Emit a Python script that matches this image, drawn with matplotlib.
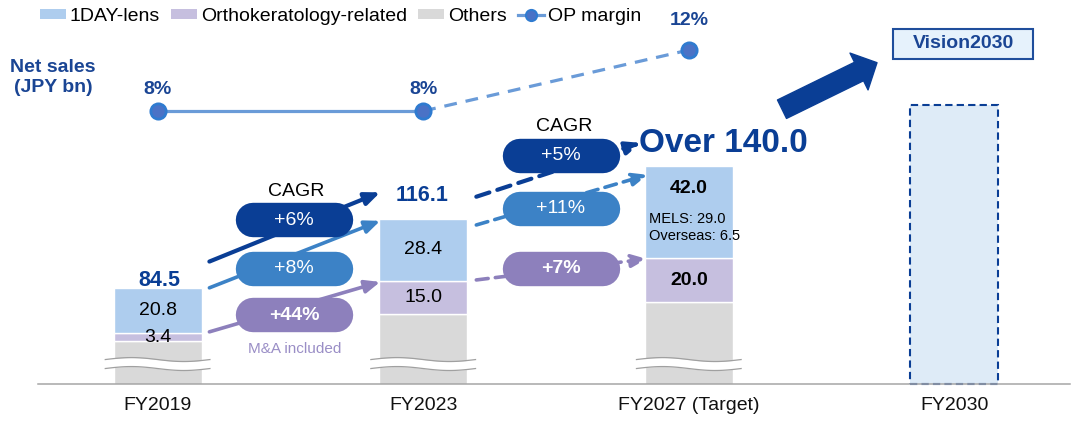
import numpy as np
import matplotlib
matplotlib.use("Agg")
import matplotlib.pyplot as plt
from matplotlib.patches import Rectangle, FancyArrowPatch, Patch
from matplotlib.lines import Line2D

plt.rcParams['font.family'] = ['Liberation Sans', 'DejaVu Sans']

# ---------------- data ----------------
categories = ['FY2019', 'FY2023', 'FY2027 (Target)', 'FY2030']
net_sales = [84.5, 116.1, 140.0]
net_sales_labels = ['84.5', '116.1', 'Over 140.0']
oneday = [20.8, 28.4, 42.0]
ortho = [3.4, 15.0, 20.0]
others = [60.3, 72.7, 78.0]
op_margin = [8, 8, 12]
op_labels = ['8%', '8%', '12%']
cagr_19_23 = ['+6%', '+8%', '+44%']   # net sales, 1DAY, ortho
cagr_23_27 = ['+5%', '+11%', '+7%']
mels_2027 = 29.0
overseas_2027 = 6.5
vision2030_placeholder = 168.0        # height of dashed placeholder bar (estimated)
legend_labels = ['1DAY-lens', 'Orthokeratology-related', 'Others', 'OP margin']

# ---------------- style ----------------
c_1day = '#aecdee'
c_ortho = '#c6bfdf'
c_others = '#d9d9d9'
navy = '#0a3e95'
text_navy = '#1a4594'
mid_blue = '#3c82c6'
purple = '#8d80bc'
ma_purple = '#9a8ec6'
op_line = '#6a9bd8'
op_face = '#4a72c6'
op_edge = '#2f7bd0'

W, H = 1073, 423
fig = plt.figure(figsize=(W / 100, H / 100), dpi=100)
axis_px = 384.3
ax = fig.add_axes([38 / W, (H - axis_px) / H, (1070 - 38) / W, axis_px / H])
x0_px, step_px = 157.6, 265.6
ax.set_xlim((38 - x0_px) / step_px, (1070 - x0_px) / step_px)
ymin, ypx = 40.45, 2.19
ax.set_ylim(ymin, ymin + axis_px / ypx)

x = np.arange(3)
bw = 88 / step_px
others_a = np.array(others)
ortho_a = np.array(ortho)
ax.bar(x, others, bw, color=c_others, edgecolor='white', lw=1, zorder=2)
ax.bar(x, ortho, bw, bottom=others_a, color=c_ortho, edgecolor='white', lw=1, zorder=2)
ax.bar(x, oneday, bw, bottom=others_a + ortho_a, color=c_1day, edgecolor='white', lw=1, zorder=2)
ax.bar([3], [vision2030_placeholder - ymin], bw, bottom=ymin, color='#deebf7',
       edgecolor=navy, lw=1.5, linestyle=(0, (3.5, 2)), zorder=2, clip_on=False)

# axis break symbols
t = np.linspace(0, 1, 80)
for i in x:
    xs = i - 0.197 + 0.394 * t
    wave = 0.9 * np.sin(2 * np.pi * t)
    yc = 49.7
    up = yc + 2.05 + wave
    lo = yc - 2.05 + wave
    ax.fill_between(xs, lo, up, color='white', zorder=3, lw=0)
    ax.plot(xs, up, color='#a0a0a0', lw=0.9, zorder=3)
    ax.plot(xs, lo, color='#a0a0a0', lw=0.9, zorder=3)

# axis styling
for s in ['left', 'right', 'top']:
    ax.spines[s].set_visible(False)
ax.spines['bottom'].set_color('#a6a6a6')
ax.spines['bottom'].set_linewidth(1.1)
ax.set_yticks([])
ax.set_xticks(range(4))
ax.set_xticklabels(categories, fontsize=14, color='#111111')
ax.tick_params(axis='x', length=0, pad=9)

# total labels
tot_offsets = [(1.2, 1.2, 15.5), (-0.5, 13, 15.5), (25, 10, 24)]
for i in x:
    dx, dy, fs = tot_offsets[i]
    ax.annotate(net_sales_labels[i], (i, net_sales[i]), xytext=(dx, dy),
                textcoords='offset points', ha='center', va='baseline',
                fontsize=fs, fontweight='bold', color=navy, zorder=6)

# segment labels
tops_ortho = others_a + ortho_a
for i in x:
    bold = 'bold' if i == 2 else 'normal'
    ax.text(i, tops_ortho[i] - ortho[i] / 2, f'{ortho[i]:.1f}', ha='center', va='center',
            fontsize=14, fontweight=bold, color='black', zorder=6)
    if i < 2:
        ax.text(i, net_sales[i] - oneday[i] / 2, f'{oneday[i]:.1f}', ha='center', va='center',
                fontsize=14, color='black', zorder=6)
    else:
        ax.annotate(f'{oneday[i]:.1f}', (i, net_sales[i]), xytext=(0, -16),
                    textcoords='offset points', ha='center', va='center',
                    fontsize=14, fontweight='bold', color='black', zorder=6)
        ax.annotate(f'MELS: {mels_2027:.1f}', (i, net_sales[i]), xytext=(-28.7, -37.7),
                    textcoords='offset points', ha='left', va='center',
                    fontsize=10.5, color='black', zorder=6)
        ax.annotate(f'Overseas: {overseas_2027:.1f}', (i, net_sales[i]), xytext=(-28.7, -49.9),
                    textcoords='offset points', ha='left', va='center',
                    fontsize=10.5, color='black', zorder=6)

# growth arrows
def arrow(x1, y1, x2, y2, color, lw, dashed):
    props = dict(arrowstyle='-|>,head_length=0.9,head_width=0.38', mutation_scale=10,
                 lw=lw, color=color, shrinkA=0, shrinkB=0)
    if dashed:
        props['linestyle'] = (0, (3.3, 2.0))
    ax.annotate('', xy=(x2, y2), xytext=(x1, y1), arrowprops=props, zorder=4)

series_tops = [np.array(net_sales), np.array(net_sales), tops_ortho]
arrow_colors = [navy, mid_blue, purple]
arrow_lw = [3.0, 2.6, 2.6]
off1 = [(12, 12), (0, -1), (0.7, -0.5)]
off2 = [(10, 10.7), (-2.9, -3.9), (0.4, -0.3)]
end2 = [0.18, 0.155, 0.158]
for k in range(3):
    s = series_tops[k]
    arrow(0.195, s[0] + off1[k][0], 1 - 0.162, s[1] + off1[k][1], arrow_colors[k], arrow_lw[k], False)
    arrow(1.2, s[1] + off2[k][0], 2 - end2[k], s[2] + off2[k][1], arrow_colors[k], arrow_lw[k], True)

# CAGR pills
pill_half = 41.5 / step_px
pill_lw = 34.4 * 72 / 100
pill_x = [0.514, 1.519]
pill_y = [[115.25, 93.3, 71.9], [144.9, 120.7, 93.1]]
pill_text = [cagr_19_23, cagr_23_27]
for g in range(2):
    for k in range(3):
        xc, yc = pill_x[g], pill_y[g][k]
        ax.plot([xc - pill_half, xc + pill_half], [yc, yc], lw=pill_lw,
                solid_capstyle='round', color=arrow_colors[k], zorder=5)
        ax.text(xc, yc, pill_text[g][k], ha='center', va='center', fontsize=14,
                color='white', fontweight='bold' if k == 2 else 'normal', zorder=6)
ax.text(0.521, 128.7, 'CAGR', ha='center', va='center', fontsize=14, color='black', zorder=6)
ax.text(1.530, 158.1, 'CAGR', ha='center', va='center', fontsize=14, color='black', zorder=6)
ax.text(0.516, 56.6, 'M&A included', ha='center', va='center', fontsize=11, color=ma_purple, zorder=6)

# OP margin line
ax2 = ax.twinx()
ax2.set_ylim(-9.92, 15.28)
ax2.axis('off')
ax2.plot(x[:2], op_margin[:2], color=op_line, lw=2.3, zorder=2)
ax2.plot(x[1:], op_margin[1:], color=op_line, lw=2.3, ls=(0, (4, 2.8)), zorder=2)
ax2.plot(x, op_margin, 'o', ms=11, mfc=op_face, mec=op_edge, mew=2, zorder=3)
op_off = [15.8, 15.8, 21.6]
for i in x:
    ax2.annotate(op_labels[i], (i, op_margin[i]), xytext=(0, op_off[i]), textcoords='offset points',
                 ha='center', va='center', fontsize=14, fontweight='bold', color=text_navy)

# Net sales axis title
fig.text(53 / W, 1 - 67 / H, 'Net sales', ha='center', va='center', fontsize=14,
         fontweight='bold', color=text_navy)
fig.text(53 / W, 1 - 88 / H, '(JPY bn)', ha='center', va='center', fontsize=14,
         fontweight='bold', color=text_navy)

# big arrow toward Vision2030
big = FancyArrowPatch(posA=(7.82, (H - 109.2) / 100), posB=(8.77, (H - 62.7) / 100),
                      transform=fig.dpi_scale_trans,
                      arrowstyle='simple,head_length=14.4,head_width=29.5,tail_width=14.8',
                      mutation_scale=1, color=navy, shrinkA=0, shrinkB=0)
fig.add_artist(big)

# Vision2030 box
fig.add_artist(Rectangle((893 / W, 1 - 59 / H), 140 / W, 30 / H, transform=fig.transFigure,
                         facecolor='#e6f2fc', edgecolor='#1f4e9c', lw=1.5))
fig.text(963 / W, 1 - 44 / H, 'Vision2030', ha='center', va='center', fontsize=14,
         fontweight='bold', color=text_navy)

# legend
handles = [Patch(facecolor=c_1day), Patch(facecolor=c_ortho), Patch(facecolor=c_others),
           Line2D([], [], color=op_line, lw=2.3, marker='o', ms=8, mfc=op_face, mec=op_edge, mew=1.5)]
fig.legend(handles, legend_labels, loc='center left', bbox_to_anchor=(40 / W, 1 - 16.5 / H),
           ncol=4, frameon=False, fontsize=14, handlelength=1.34, handleheight=0.46,
           handletextpad=0.2, columnspacing=0.57, borderpad=0, borderaxespad=0)

fig.savefig('out.png', dpi=100)
